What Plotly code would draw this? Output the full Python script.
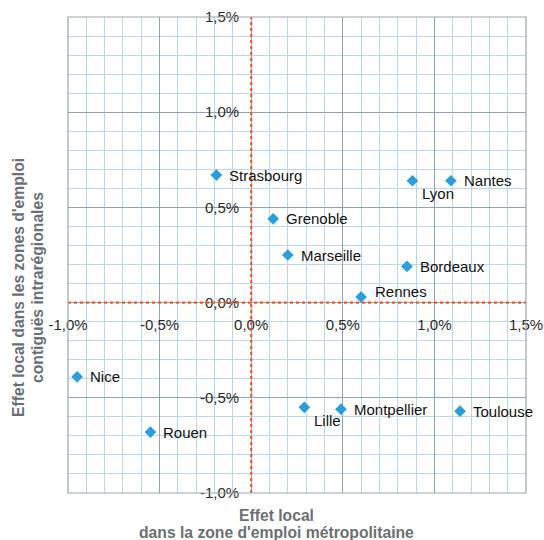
import plotly.graph_objects as go

cities = ["Strasbourg", "Grenoble", "Marseille", "Lyon", "Nantes", "Bordeaux", "Rennes",
          "Nice", "Rouen", "Lille", "Montpellier", "Toulouse"]
x_vals = [-0.19, 0.12, 0.20, 0.88, 1.09, 0.85, 0.60, -0.95, -0.55, 0.29, 0.49, 1.14]
y_vals = [0.67, 0.44, 0.25, 0.64, 0.64, 0.19, 0.03, -0.39, -0.68, -0.55, -0.56, -0.57]

tick_vals = [-1.0, -0.5, 0.0, 0.5, 1.0, 1.5]
tick_text = ["-1,0%", "-0,5%", "0,0%", "0,5%", "1,0%", "1,5%"]

x_title = ["Effet local", "dans la zone d'emploi métropolitaine"]
y_title = ["Effet local dans les zones d'emploi", "contiguës intrarégionales"]

# label placement (style): default is to the right of the marker
LABEL_SHIFT = {"Lyon": (8, -13), "Lille": (8, -13), "Rennes": (12, 5)}

FONT = "Liberation Sans, Arial, Helvetica, sans-serif"
MINOR = "#bcd5e8"
MAJOR = "#8ea3b4"
ZERO = "#ee5a2c"
TITLE_C = "#6b6f74"

W, H = 544, 540
L, R, T, B = 68, 18, 17, 47
pw, ph = W - L - R, H - T - B


def px_to_paper(px, py):
    return (px - L) / pw, (H - B - py) / ph


fig = go.Figure()
fig.add_trace(go.Scatter(
    x=x_vals, y=y_vals, mode="markers",
    marker=dict(symbol="diamond", size=9, color="#2a9edb"),
    hoverinfo="text", text=cities, showlegend=False, cliponaxis=False,
))

annotations = []
for c, xv, yv in zip(cities, x_vals, y_vals):
    xs, ys = LABEL_SHIFT.get(c, (11, 0))
    annotations.append(dict(x=xv, y=yv, xref="x", yref="y", text=c, showarrow=False,
                            xanchor="left", yanchor="middle", xshift=xs, yshift=ys,
                            font=dict(family=FONT, size=15, color="#111")))

for txt, (px, py) in zip(x_title, [(276, 515), (276, 532)]):
    ax, ay = px_to_paper(px, py)
    annotations.append(dict(x=ax, y=ay, xref="paper", yref="paper", text="<b>%s</b>" % txt,
                            showarrow=False, xanchor="center", yanchor="middle",
                            font=dict(family=FONT, size=15.7, color=TITLE_C)))
for txt, (px, py) in zip(y_title, [(18, 288), (37, 288)]):
    ax, ay = px_to_paper(px, py)
    annotations.append(dict(x=ax, y=ay, xref="paper", yref="paper", text="<b>%s</b>" % txt,
                            showarrow=False, xanchor="center", yanchor="middle", textangle=-90,
                            font=dict(family=FONT, size=15.7, color=TITLE_C)))

shapes = [
    dict(type="line", xref="x", yref="paper", x0=0, x1=0, y0=0, y1=1,
         line=dict(color=ZERO, width=2.2, dash="dot"), layer="above"),
    dict(type="line", xref="paper", yref="y", x0=0, x1=1, y0=0, y1=0,
         line=dict(color=ZERO, width=2.2, dash="dot"), layer="above"),
    dict(type="rect", xref="paper", yref="paper", x0=0, x1=1, y0=0, y1=1,
         line=dict(color="#9aa6ae", width=1.2), layer="above"),
]

axis_common = dict(
    tickvals=tick_vals, ticktext=tick_text, ticks="", showline=False, zeroline=False,
    showgrid=True, gridcolor=MAJOR, gridwidth=1,
    minor=dict(dtick=0.1, tick0=0, showgrid=True, gridcolor=MINOR, gridwidth=1),
    tickfont=dict(family=FONT, size=15, color="#2a2a2a"),
    anchor="free", position=0.4, fixedrange=True, automargin=False,
)

fig.update_layout(
    width=W, height=H, margin=dict(l=L, r=R, t=T, b=B, autoexpand=False),
    paper_bgcolor="white", plot_bgcolor="white",
    xaxis=dict(range=[-1.0, 1.5], ticklabelstandoff=11, **axis_common),
    yaxis=dict(range=[-1.0, 1.5], ticklabelstandoff=12, **axis_common),
    annotations=annotations, shapes=shapes,
)

fig.write_html(
    "out.html",
    config={"displayModeBar": False},
    post_script="document.body.style.margin='0';document.body.style.padding='0';"
                "document.body.style.overflow='hidden';",
)
